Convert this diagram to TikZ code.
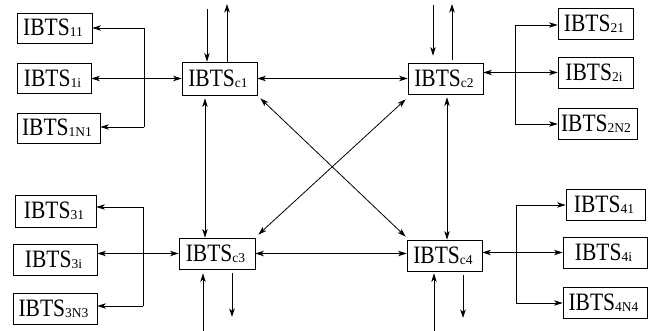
\documentclass[tikz,border=0pt]{standalone}
\usepackage{fontspec}
\usetikzlibrary{arrows.meta,calc}
\newfontfamily\mainf[FakeStretch=0.86]{Liberation Serif}
\newfontfamily\subf{Liberation Serif}
\newcommand\ib[1]{IBTS\raisebox{-1.2pt}{\fontsize{13.5}{13.5}\subf #1}\kern3pt}
\tikzset{
  box/.style={draw, line width=0.8pt, inner sep=0pt, font=\fontsize{25}{25}\mainf},
}
\begin{document}
\begin{tikzpicture}[x=1pt,y=-1pt, >={Stealth[length=8.5pt,width=5.5pt,inset=2.4pt]}, line width=0.8pt]
\useasboundingbox (0,0) rectangle (657,331);
% boxes
\node[box, minimum width=75pt, minimum height=30pt] (n11) at (54.5,28) {\ib{11}};
\node[box, minimum width=74pt, minimum height=30pt] (n1i) at (54,78.5) {\ib{1i}};
\node[box, minimum width=83pt, minimum height=30pt] (n1N1) at (58.5,128) {\ib{1N1}};
\node[box, minimum width=75pt, minimum height=33pt] (c1) at (219.5,78.5) {\ib{c1}};
\node[box, minimum width=75pt, minimum height=31pt] (c2) at (445.5,78.5) {\ib{c2}};
\node[box, minimum width=75pt, minimum height=31pt] (n21) at (595.5,23.5) {\ib{21}};
\node[box, minimum width=75pt, minimum height=31pt] (n2i) at (595.5,72.5) {\ib{2i}};
\node[box, minimum width=79pt, minimum height=31pt] (n2N2) at (597.5,123.5) {\ib{2N2}};
\node[box, minimum width=81pt, minimum height=32pt] (n31) at (55.5,211) {\ib{31}};
\node[box, minimum width=84pt, minimum height=31pt] (n3i) at (55,259.5) {\ib{3i}};
\node[box, minimum width=84pt, minimum height=31pt] (n3N3) at (55,308.5) {\ib{3N3}};
\node[box, minimum width=76pt, minimum height=31pt] (c3) at (217,253.5) {\ib{c3}};
\node[box, minimum width=75pt, minimum height=31pt] (c4) at (444.5,255.5) {\ib{c4}};
\node[box, minimum width=79pt, minimum height=31pt] (n41) at (605.5,204.5) {\ib{41}};
\node[box, minimum width=84pt, minimum height=31pt] (n4i) at (605,252.5) {\ib{4i}};
\node[box, minimum width=84pt, minimum height=31pt] (n4N4) at (605,302.5) {\ib{4N4}};
% group 1
\coordinate (b1t) at (144,28); \coordinate (b1b) at (144,127);
\draw (b1t) -- (b1b);
\draw[->] (b1t) -- (b1t -| n11.east);
\draw[->] (b1b) -- (b1b -| n1N1.east);
\draw[<->] (c1.west) -- (c1.west -| n1i.east);
\coordinate (c1i) at (207,9); \coordinate (c1o) at (227,4);
\draw[->] (c1i) -- (c1i |- c1.north);
\draw[->] (c1o |- c1.north) -- (c1o);
% group 2
\coordinate (b2t) at (515,25); \coordinate (b2b) at (515,124);
\draw (b2t) -- (b2b);
\draw[->] (b2t) -- (b2t -| n21.west);
\draw[->] (b2b) -- (b2b -| n2N2.west);
\draw[<->] (n2i.west) -- (n2i.west -| c2.east);
\coordinate (c2i) at (433,5); \coordinate (c2o) at (452,4);
\draw[->] (c2i) -- ($(c2i |- c2.north)+(0,-7)$);
\draw[->] ($(c2o |- c2.north)+(0,-3)$) -- (c2o);
% group 3
\coordinate (b3t) at (143,207); \coordinate (b3b) at (143,306);
\draw (b3t) -- (b3b);
\draw[->] (b3t) -- (b3t -| n31.east);
\draw[->] (b3b) -- (b3b -| n3N3.east);
\draw[<->] (c3.west) -- (c3.west -| n3i.east);
\coordinate (c3i) at (203,331); \coordinate (c3o) at (232,317);
\draw[->] (c3i) -- ($(c3i |- c3.south)+(0,4)$);
\draw[->] ($(c3o |- c3.south)+(0,4)$) -- (c3o);
% group 4
\coordinate (b4t) at (516,205); \coordinate (b4b) at (516,303);
\draw (b4t) -- (b4b);
\draw[->] (b4t) -- (b4t -| n41.west);
\draw[->] (b4b) -- (b4b -| n4N4.west);
\draw[<->] (n4i.west) -- (n4i.west -| c4.east);
\coordinate (c4i) at (434,331); \coordinate (c4o) at (463,318);
\draw[->] (c4i) -- ($(c4i |- c4.south)+(0,2)$);
\draw[->] ($(c4o |- c4.south)+(0,4)$) -- (c4o);
% core links
\draw[<->] (c1.east) -- (c2.west);
\draw[<->] (c3.east) -- (c3.east -| c4.west);
\coordinate (v13) at (205,0); \coordinate (v24) at (447,0);
\draw[<->, shorten <=3pt] (v13 |- c1.south) -- (v13 |- c3.north);
\draw[<->, shorten <=3pt] (v24 |- c2.south) -- (v24 |- c4.north);
\draw[<->] ($(c1.south east)+(3,3)$) -- ($(c4.north west)+(-1,-3)$);
\draw[<->] ($(c2.south west)+(-2,5)$) -- ($(c3.north east)+(3,-3)$);
\end{tikzpicture}
\end{document}
